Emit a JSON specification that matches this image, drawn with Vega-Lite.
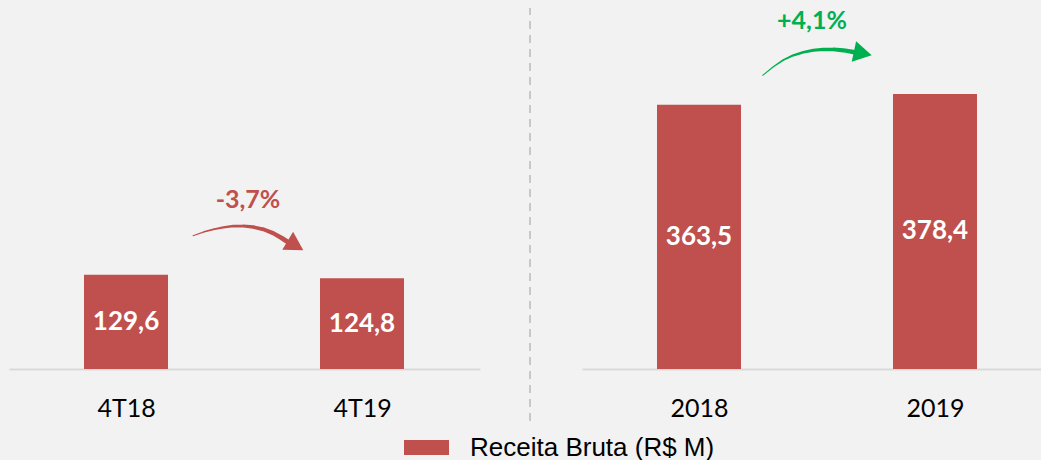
{
  "$schema": "https://vega.github.io/schema/vega-lite/v6.json",
  "background": "#f2f2f2",
  "padding": {"left": 9, "top": 0, "right": 0, "bottom": 0},
  "autosize": {"type": "pad"},
  "bounds": "flush",
  "spacing": 102,
  "datasets": {
    "bars": [
      {"grupo": "trimestre", "periodo": "4T18", "idx": 0, "receita": 129.6},
      {"grupo": "trimestre", "periodo": "4T19", "idx": 1, "receita": 124.8},
      {"grupo": "ano", "periodo": "2018", "idx": 0, "receita": 363.5},
      {"grupo": "ano", "periodo": "2019", "idx": 1, "receita": 378.4}
    ],
    "seta_tri": [
      {"i": 1, "x": 0.2839, "y": 183.4},
      {"i": 2, "x": 0.3277, "y": 188.4},
      {"i": 3, "x": 0.3701, "y": 192.2},
      {"i": 4, "x": 0.4124, "y": 194.9},
      {"i": 5, "x": 0.4548, "y": 196.7},
      {"i": 6, "x": 0.4972, "y": 196.7},
      {"i": 7, "x": 0.5395, "y": 195.3},
      {"i": 8, "x": 0.5819, "y": 192.2},
      {"i": 9, "x": 0.6243, "y": 186.7},
      {"i": 10, "x": 0.6596, "y": 180.2},
      {"i": 11, "x": 0.6809, "y": 175.7}
    ],
    "seta_ano": [
      {"i": 1, "x": 0.2698, "y": 404.0},
      {"i": 2, "x": 0.3150, "y": 415.8},
      {"i": 3, "x": 0.3573, "y": 425.0},
      {"i": 4, "x": 0.3997, "y": 431.5},
      {"i": 5, "x": 0.4421, "y": 435.6},
      {"i": 6, "x": 0.4845, "y": 438.4},
      {"i": 7, "x": 0.5268, "y": 439.7},
      {"i": 8, "x": 0.5692, "y": 439.7},
      {"i": 9, "x": 0.6116, "y": 438.4},
      {"i": 10, "x": 0.6540, "y": 436.0},
      {"i": 11, "x": 0.6752, "y": 434.2}
    ],
    "anot": [
      {"grupo": "trimestre", "texto": "-3,7%", "x": 0.517, "y": 232.5, "hx": 0.7182, "hy": 169.9},
      {"grupo": "ano", "texto": "+4,1%", "x": 0.479, "y": 478.7, "hx": 0.6941, "hy": 434.2}
    ]
  },
  "hconcat": [
    {
      "width": 471,
      "height": 369,
      "layer": [
        {
          "data": {"name": "bars"},
          "transform": [{"filter": "datum.grupo == 'trimestre'"}],
          "mark": {"type": "bar", "size": 84},
          "encoding": {
            "x": {"field": "idx", "type": "quantitative",
              "scale": {"domain": [-0.4958, 1.5], "nice": false, "zero": false, "padding": 0},
              "axis": {"values": [0, 1], "labelExpr": "datum.value == 0 ? '4T18' : '4T19'", "title": null,
                "domain": true, "domainColor": "#d9d9d9", "domainWidth": 2, "ticks": false, "tickSize": 0,
                "grid": false, "labelFont": "Lato", "labelFontSize": 25, "labelColor": "#000000",
                "labelBaseline": "alphabetic", "labelPadding": 47, "labelFlush": false, "labelOverlap": false}},
            "y": {"field": "receita", "type": "quantitative",
              "scale": {"domain": [0, 507.6], "nice": false, "padding": 0}, "axis": null},
            "color": {"datum": "Receita Bruta (R$ M)", "type": "nominal",
              "scale": {"range": ["#c0504d"]},
              "legend": {"title": null, "orient": "none", "legendX": 395, "legendY": 425,
                "symbolType": "M-1,-0.333H1V0.333H-1Z", "symbolSize": 2025, "symbolStrokeWidth": 0,
                "labelFont": "Liberation Sans", "labelFontSize": 26, "labelColor": "#000000",
                "labelOffset": 21, "labelLimit": 0, "padding": 0}}
          }
        },
        {
          "data": {"name": "bars"},
          "transform": [
            {"filter": "datum.grupo == 'trimestre'"},
            {"calculate": "datum.receita / 2", "as": "meio"},
            {"calculate": "replace(format(datum.receita, '.1f'), '.', ',')", "as": "rotulo"}
          ],
          "mark": {"type": "text", "font": "Lato", "fontWeight": "bold", "fontSize": 26, "color": "#ffffff", "baseline": "middle"},
          "encoding": {
            "x": {"field": "idx", "type": "quantitative"},
            "y": {"field": "meio", "type": "quantitative"},
            "text": {"field": "rotulo"}
          }
        },
        {
          "data": {"name": "seta_tri"},
          "mark": {"type": "trail", "color": "#c0504d"},
          "encoding": {
            "x": {"field": "x", "type": "quantitative"},
            "y": {"field": "y", "type": "quantitative"},
            "order": {"field": "i"},
            "size": {"field": "i", "type": "quantitative", "scale": {"range": [1, 5], "zero": false}, "legend": null}
          }
        },
        {
          "data": {"name": "anot"},
          "transform": [{"filter": "datum.grupo == 'trimestre'"}],
          "mark": {"type": "point", "shape": "triangle-right", "filled": true, "size": 441, "angle": 31, "color": "#c0504d", "opacity": 1},
          "encoding": {
            "x": {"field": "hx", "type": "quantitative"},
            "y": {"field": "hy", "type": "quantitative"}
          }
        },
        {
          "data": {"name": "anot"},
          "transform": [{"filter": "datum.grupo == 'trimestre'"}],
          "mark": {"type": "text", "font": "Lato", "fontWeight": "bold", "fontSize": 25, "color": "#c0504d", "baseline": "middle"},
          "encoding": {
            "x": {"field": "x", "type": "quantitative"},
            "y": {"field": "y", "type": "quantitative"},
            "text": {"field": "texto"}
          }
        },
        {
          "data": {"values": [{}]},
          "mark": {"type": "rule", "color": "#c8c8c8", "strokeWidth": 2, "strokeDash": [8, 6]},
          "encoding": {
            "x": {"datum": 1.7119, "type": "quantitative"},
            "y": {"datum": -71.5, "type": "quantitative"},
            "y2": {"datum": 496.6}
          }
        }
      ]
    },
    {
      "width": 459,
      "height": 369,
      "layer": [
        {
          "data": {"name": "bars"},
          "transform": [{"filter": "datum.grupo == 'ano'"}],
          "mark": {"type": "bar", "size": 84},
          "encoding": {
            "x": {"field": "idx", "type": "quantitative",
              "scale": {"domain": [-0.4958, 1.4492], "nice": false, "zero": false, "padding": 0},
              "axis": {"values": [0, 1], "labelExpr": "datum.value == 0 ? '2018' : '2019'", "title": null,
                "domain": true, "domainColor": "#d9d9d9", "domainWidth": 2, "ticks": false, "tickSize": 0,
                "grid": false, "labelFont": "Lato", "labelFontSize": 25, "labelColor": "#000000",
                "labelBaseline": "alphabetic", "labelPadding": 47, "labelFlush": false, "labelOverlap": false}},
            "y": {"field": "receita", "type": "quantitative",
              "scale": {"domain": [0, 507.6], "nice": false, "padding": 0}, "axis": null},
            "color": {"datum": "Receita Bruta (R$ M)", "type": "nominal",
              "scale": {"range": ["#c0504d"]},
              "legend": {"title": null, "orient": "none", "legendX": 395, "legendY": 425,
                "symbolType": "M-1,-0.333H1V0.333H-1Z", "symbolSize": 2025, "symbolStrokeWidth": 0,
                "labelFont": "Liberation Sans", "labelFontSize": 26, "labelColor": "#000000",
                "labelOffset": 21, "labelLimit": 0, "padding": 0}}
          }
        },
        {
          "data": {"name": "bars"},
          "transform": [
            {"filter": "datum.grupo == 'ano'"},
            {"calculate": "datum.receita / 2", "as": "meio"},
            {"calculate": "replace(format(datum.receita, '.1f'), '.', ',')", "as": "rotulo"}
          ],
          "mark": {"type": "text", "font": "Lato", "fontWeight": "bold", "fontSize": 26, "color": "#ffffff", "baseline": "middle"},
          "encoding": {
            "x": {"field": "idx", "type": "quantitative"},
            "y": {"field": "meio", "type": "quantitative"},
            "text": {"field": "rotulo"}
          }
        },
        {
          "data": {"name": "seta_ano"},
          "mark": {"type": "trail", "color": "#00b050"},
          "encoding": {
            "x": {"field": "x", "type": "quantitative"},
            "y": {"field": "y", "type": "quantitative"},
            "order": {"field": "i"},
            "size": {"field": "i", "type": "quantitative", "scale": {"range": [1, 5], "zero": false}, "legend": null}
          }
        },
        {
          "data": {"name": "anot"},
          "transform": [{"filter": "datum.grupo == 'ano'"}],
          "mark": {"type": "point", "shape": "triangle-right", "filled": true, "size": 441, "angle": 12, "color": "#00b050", "opacity": 1},
          "encoding": {
            "x": {"field": "hx", "type": "quantitative"},
            "y": {"field": "hy", "type": "quantitative"}
          }
        },
        {
          "data": {"name": "anot"},
          "transform": [{"filter": "datum.grupo == 'ano'"}],
          "mark": {"type": "text", "font": "Lato", "fontWeight": "bold", "fontSize": 25, "color": "#00b050", "baseline": "middle"},
          "encoding": {
            "x": {"field": "x", "type": "quantitative"},
            "y": {"field": "y", "type": "quantitative"},
            "text": {"field": "texto"}
          }
        }
      ]
    }
  ],
  "resolve": {"scale": {"color": "shared", "x": "independent", "y": "independent", "size": "independent"}, "legend": {"color": "shared"}},
  "config": {
    "view": {"stroke": null},
    "axis": {"grid": false},
    "legend": {"padding": 0}
  }
}
